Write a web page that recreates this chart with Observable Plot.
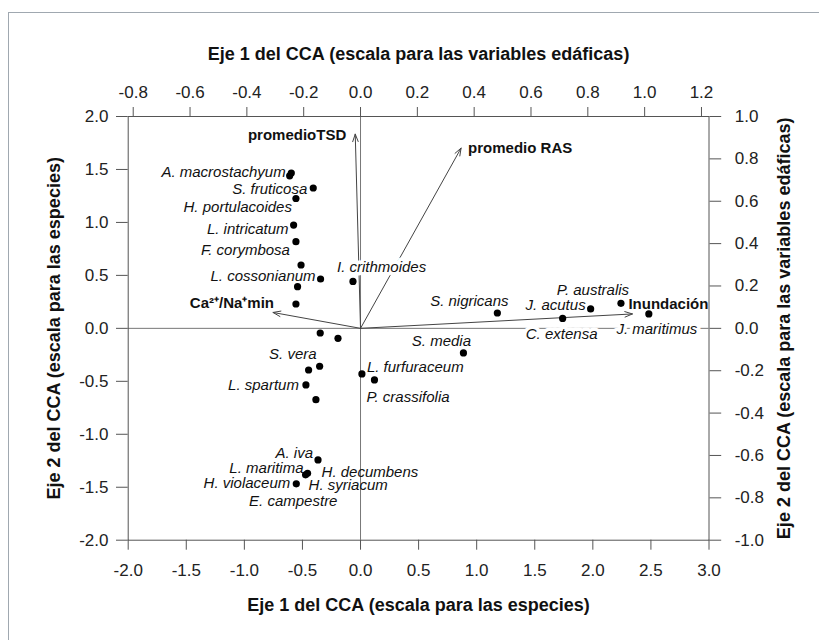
<!DOCTYPE html>
<html><head><meta charset="utf-8">
<script src="https://cdn.jsdelivr.net/npm/d3@7"></script>
<script src="https://cdn.jsdelivr.net/npm/@observablehq/plot@0.6"></script>
<style>
html,body{margin:0;padding:0;background:#fff;overflow:hidden;width:819px;height:640px;}
#border{position:absolute;left:8px;top:12px;width:840px;height:700px;border:1px solid #a0a8b0;box-sizing:border-box;}
#chart{position:absolute;left:0;top:0;}
</style></head><body>
<div id="border"></div><div id="chart"></div>
<script>
// ---- data: species scores (species scale) ----
const speciesX = [-0.61,-0.596,-0.407,-0.556,-0.576,-0.556,-0.512,-0.344,-0.542,-0.556,-0.065,-0.347,-0.194,-0.352,-0.447,-0.47,-0.384,0.012,0.12,-0.366,-0.456,-0.473,-0.553,1.178,1.74,1.981,2.242,2.482,0.886];
const speciesY = [1.44,1.466,1.325,1.226,0.975,0.818,0.598,0.466,0.393,0.230,0.443,-0.044,-0.094,-0.358,-0.393,-0.534,-0.673,-0.43,-0.487,-1.242,-1.368,-1.383,-1.468,0.145,0.094,0.183,0.236,0.136,-0.232];

// species labels and the point each one names
const labelText = ["A. macrostachyum","S. fruticosa","H. portulacoides","L. intricatum","F. corymbosa","L. cossonianum","I. crithmoides","S. vera","L. spartum","L. furfuraceum","P. crassifolia","A. iva","L. maritima","H. decumbens","H. syriacum","H. violaceum","E. campestre","S. nigricans","C. extensa","J. acutus","P. australis","J. maritimus","S. media"];
const labelPoint = [0,2,3,4,5,7,10,13,15,17,18,19,20,20,21,22,22,23,24,25,26,27,28];

// ---- data: environmental variables (variable scale) ----
const envNames = ["promedioTSD","promedio RAS","Ca²⁺/Na⁺min","Inundación"];
const envX = [-0.0186, 0.354, -0.308, 0.957];
const envY = [0.917, 0.851, 0.075, 0.068];

// tick labels
const bottomTicks = [-2,-1.5,-1,-0.5,0,0.5,1,1.5,2,2.5,3];
const leftTicks = [-2,-1.5,-1,-0.5,0,0.5,1,1.5,2];
const topTicks = [-0.8,-0.6,-0.4,-0.2,0,0.2,0.4,0.6,0.8,1.0,1.2];
const rightTicks = [-1,-0.8,-0.6,-0.4,-0.2,0,0.2,0.4,0.6,0.8,1.0];

// ---- layout (not data) ----
const kx = 2.446, ky = 2; // variable scale -> species scale
const labelLayout = [
  [-4,-4,"end",false],[-6,1,"end",false],[-4,9,"end",false],[-5,4,"end",false],[-6,8,"end",false],
  [-5,-3,"end",false],[-16,-14,"start",true],[-3,-12,"end",false],[-7,0,"end",false],[5,-7,"start",false],
  [-8,17,"start",false],[-5,-7,"end",false],[-4,-5,"end",false],[14,-1,"start",false],[3,10,"start",false],
  [-6,-1,"end",false],[-3,17,"middle",false],[-28,-12,"middle",false],[-1,16,"middle",true],[-5,-4,"end",false],
  [-28,-13,"middle",false],[8,15,"middle",true],[-22,-12,"middle",false]
];
const envLayout = [[-9,1,"end"],[7,0,"start"],[1,-9,"end"],[-4,-10,"start"]];

const font = "'Liberation Sans', Arial, Helvetica, sans-serif";
const fmt = v => (Math.abs(v) < 1e-9 ? 0 : v).toFixed(1);

const labelMarks = labelText.map((t, i) => {
  const [dx, dy, anchor, halo] = labelLayout[i];
  return Plot.text([i], {
    x: j => speciesX[labelPoint[j]], y: j => speciesY[labelPoint[j]], text: j => labelText[j],
    dx, dy, textAnchor: anchor, fontStyle: "italic", fontSize: 15, fill: "#111",
    ...(halo ? {stroke: "white", strokeWidth: 7, paintOrder: "stroke"} : {})
  });
});
const envMarks = envNames.map((t, i) => {
  const [dx, dy, anchor] = envLayout[i];
  return Plot.text([i], {
    x: j => envX[j] * kx, y: j => envY[j] * ky, text: j => envNames[j],
    dx, dy, textAnchor: anchor, fontWeight: "bold", fontSize: 15, fill: "#111"
  });
});
const title = (t, o) => Plot.text([t], {textAnchor: "middle", lineAnchor: "middle", fontWeight: "bold", fontSize: 18, fill: "#111", ...o});

const chart = Plot.plot({
  width: 819, height: 640,
  marginLeft: 127.7, marginRight: 110.5, marginTop: 116, marginBottom: 100.3,
  style: {fontFamily: font, fontSize: "17px", background: "transparent", color: "#222"},
  x: {domain: [-2, 3]},
  y: {domain: [-2, 2]},
  marks: [
    Plot.ruleY([0], {stroke: "#777", strokeWidth: 1}),
    Plot.ruleX([0], {stroke: "#777", strokeWidth: 1}),
    Plot.arrow(envNames.map((d, i) => i), {
      x1: () => 0, y1: () => 0, x2: i => envX[i] * kx, y2: i => envY[i] * ky,
      stroke: "#444", strokeWidth: 1, headLength: 12, headAngle: 40
    }),
    Plot.frame({stroke: "#555"}),
    Plot.axisX({anchor: "bottom", ticks: bottomTicks, tickFormat: fmt, tickSize: 10, tickPadding: 14, label: null, stroke: "#555", fontSize: 17}),
    Plot.axisY({anchor: "left", ticks: leftTicks, tickFormat: fmt, tickSize: 11.7, tickPadding: 8, label: null, stroke: "#555", fontSize: 17}),
    Plot.axisX({anchor: "top", ticks: topTicks.map(t => t * kx), tickFormat: d => fmt(d / kx), tickSize: 10, tickPadding: 9, label: null, stroke: "#555", fontSize: 17}),
    Plot.axisY({anchor: "right", ticks: rightTicks.map(t => t * ky), tickFormat: d => fmt(d / ky), tickSize: 11.7, tickPadding: 14, label: null, stroke: "#555", fontSize: 17}),
    title("Eje 1 del CCA (escala para las especies)", {frameAnchor: "bottom", dy: 65.3}),
    title("Eje 1 del CCA (escala para las variables edáficas)", {frameAnchor: "top", dy: -62.7}),
    title("Eje 2 del CCA (escala para las especies)", {frameAnchor: "left", dx: -74.4, rotate: -90}),
    title("Eje 2 del CCA (escala para las variables edáficas)", {frameAnchor: "right", dx: 74.8, rotate: -90}),
    ...envMarks,
    ...labelMarks,
    Plot.dot(speciesX.map((d, i) => i), {x: i => speciesX[i], y: i => speciesY[i], r: 3.6, fill: "#000", stroke: "none"})
  ]
});
document.getElementById("chart").appendChild(chart);
</script></body></html>
